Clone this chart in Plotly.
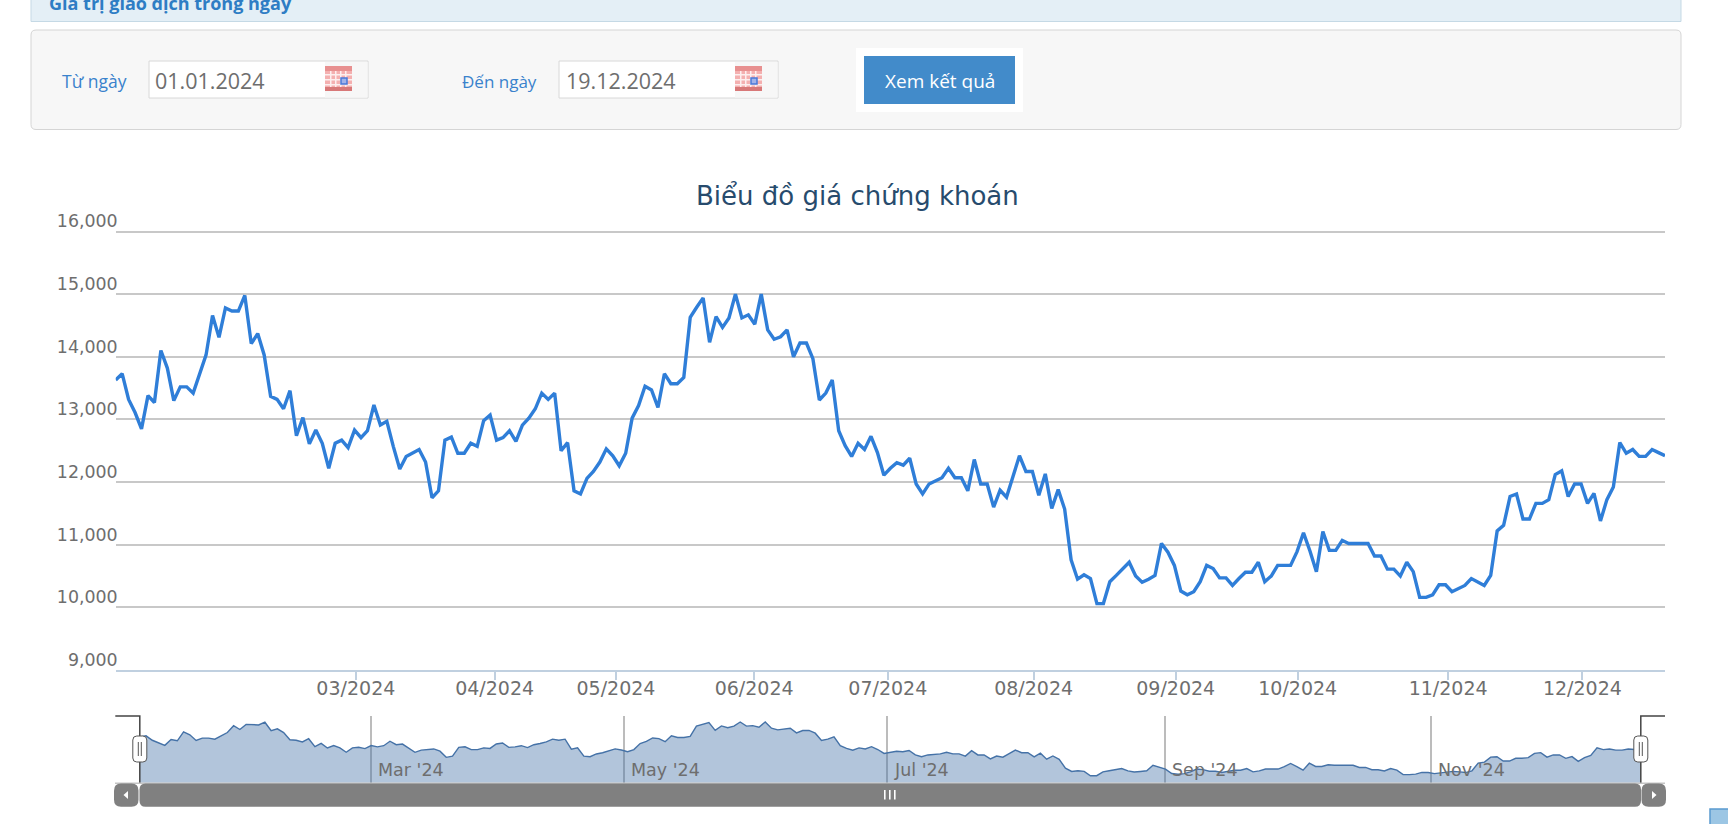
import plotly.graph_objects as go

W, H = 1728, 824

# ---------- data ----------
price_jan_may = [13630,13730,13320,13110,12850,13380,13270,14100,13820,13300,13520,13520,13420,13720,14030,
    14660,14310,14780,14730,14730,14980,14210,14370,14030,13370,13320,13170,13460,12740,13030,12610,12830,12620,
    12220,12620,12670,12550,12830,12710,12820,13230,12910,12970,12570,12210,12410,12470,12520,12320,11750,11860,
    12670,12720,12460,12460,12620,12570,12980,13070,12670,12710,12820,12650,12910,13020,13170,13420,13320,13420,
    12500,12630,11860,11810,12060,12170,12320]
price_may_aug = [12530,12420,12260,12460,13020,13220,13530,13470,13190,13730,13570,13570,13670,14630,14790,14940,
    14230,14640,14470,14620,15000,14620,14670,14520,15000,14430,14280,14320,14430,14000,14220,14220,13970,13310,
    13420,13630,12820,12580,12410,12620,12520,12730,12470,12110,12220,12310,12270,12380,11970,11810,11970,12020,
    12070,12220,12070,12070,11860,12360,11970,11970,11600,11870,11760,12090,12420,12170,12170,11790,12130,11580,
    11880,11570]
price_aug_dec = [10760,10450,10520,10460,10060,10060,10410,10510,10610,10720,10500,10400,10450,10510,11020,10880,
    10670,10260,10200,10250,10410,10670,10620,10470,10470,10350,10460,10560,10560,10720,10410,10500,10670,10670,
    10670,10890,11190,10900,10570,11210,10910,10910,11070,11020,11020,11020,11020,10820,10820,10610,10610,10500,
    10720,10570,10160,10160,10200,10360,10360,10250,10300,10350,10460,10410,10350,10510,11220,11310,11770,11810,
    11410,11410,11660,11660,11720,12120,12180,11770,11970,11970,11660,11820,11380,11720,11920,12630,12460,12520,
    12410,12410,12520,12470,12420]
price = price_jan_may + price_may_aug + price_aug_dec
session = list(range(len(price)))

y_ticks = [9000, 10000, 11000, 12000, 13000, 14000, 15000, 16000]
y_labels = ["9,000", "10,000", "11,000", "12,000", "13,000", "14,000", "15,000", "16,000"]
month_ticks = [37.2, 58.7, 77.5, 98.9, 119.6, 142.2, 164.2, 183.1, 206.4, 227.2]
month_labels = ["03/2024", "04/2024", "05/2024", "06/2024", "07/2024", "08/2024", "09/2024", "10/2024", "11/2024", "12/2024"]
nav_ticks = [37.0, 77.4, 119.5, 164.0, 206.5]
nav_labels = ["Mar '24", "May '24", "Jul '24", "Sep '24", "Nov '24"]

TITLE = "Biểu đồ giá chứng khoán"
BAR_TEXT = "Giá trị giao dịch trong ngày"
FROM_LABEL, FROM_VALUE = "Từ ngày", "01.01.2024"
TO_LABEL, TO_VALUE = "Đến ngày", "19.12.2024"
BUTTON = "Xem kết quả"

# ---------- helpers (page pixels -> paper fractions) ----------
def px(x): return x / W
def py(y): return 1 - y / H

shapes, annos = [], []

def rect(x0, y0, x1, y1, fill=None, line=None, lw=1, layer="below"):
    shapes.append(dict(type="rect", xref="paper", yref="paper", x0=px(x0), x1=px(x1), y0=py(y0), y1=py(y1),
                       fillcolor=fill or "rgba(0,0,0,0)", line=dict(color=line or "rgba(0,0,0,0)", width=lw if line else 0),
                       layer=layer))

def rrect(x0, y0, x1, y1, r, fill=None, line=None, lw=1, layer="below"):
    pts = (f"M {px(x0+r)} {py(y0)} L {px(x1-r)} {py(y0)} Q {px(x1)} {py(y0)} {px(x1)} {py(y0+r)} "
           f"L {px(x1)} {py(y1-r)} Q {px(x1)} {py(y1)} {px(x1-r)} {py(y1)} L {px(x0+r)} {py(y1)} "
           f"Q {px(x0)} {py(y1)} {px(x0)} {py(y1-r)} L {px(x0)} {py(y0+r)} Q {px(x0)} {py(y0)} {px(x0+r)} {py(y0)} Z")
    shapes.append(dict(type="path", xref="paper", yref="paper", path=pts, fillcolor=fill or "rgba(0,0,0,0)",
                       line=dict(color=line or "rgba(0,0,0,0)", width=lw if line else 0), layer=layer))

def poly(points, fill=None, line=None, lw=1, close=False, layer="above"):
    p = " L ".join(f"{px(x)} {py(y)}" for x, y in points)
    shapes.append(dict(type="path", xref="paper", yref="paper", path="M " + p + (" Z" if close else ""),
                       fillcolor=fill or "rgba(0,0,0,0)", line=dict(color=line or "rgba(0,0,0,0)", width=lw if line else 0),
                       layer=layer))

def text(x, y, s, size, color, anchor="left", family="Open Sans", bold=False):
    annos.append(dict(xref="paper", yref="paper", x=px(x), y=py(y), text=f"<b>{s}</b>" if bold else s,
                      showarrow=False, xanchor=anchor, yanchor="middle", borderpad=0,
                      font=dict(size=size, color=color, family=family)))

def calendar(x):
    rect(x, 66, x + 27, 91, fill="#f4b0b0")
    rect(x, 66, x + 27, 71, fill="#e89090")
    rect(x, 87, x + 27, 91, fill="#d87878")
    for gx in (5, 10, 15, 20):
        rect(x + gx, 71, x + gx + 1.5, 87, fill="#fdeeee")
    for gy in (74, 79, 84):
        rect(x, gy, x + 27, gy + 1.5, fill="#fdeeee")
    rect(x + 16, 78, x + 22, 84, fill="#9fb2ea", line="#4a78d8", lw=1.5)

# ---------- page furniture ----------
rect(31, -3, 1681, 21.5, fill="#e4eff6", line="#c5d9e5")
text(48, 3, BAR_TEXT, 18, "#2e7dc4", bold=True)

rrect(31, 30, 1681, 129.5, 5, fill="#f7f7f7", line="#d5d5d5", lw=1)

text(61, 81, FROM_LABEL, 17.5, "#3a82cc")
rect(149, 61, 368, 98, fill="#ffffff", line="#d8d8d8")
rect(325, 62, 367.5, 97.5, fill="#f7f7f7")
calendar(325)
text(154, 80.5, FROM_VALUE, 21.5, "#6e6e6e")

text(461, 81, TO_LABEL, 17, "#3a82cc")
rect(559, 61, 778, 98, fill="#ffffff", line="#d8d8d8")
rect(735, 62, 777.5, 97.5, fill="#f7f7f7")
calendar(735)
text(564.5, 80.5, TO_VALUE, 21.5, "#6e6e6e")

rect(856, 48, 1023, 112, fill="#ffffff")
rect(864, 56, 1015, 104, fill="#428bca")
text(939.5, 81, BUTTON, 19, "#ffffff", anchor="center")

text(857, 196, TITLE, 26, "#274b6d", anchor="center", family="DejaVu Sans")

# navigator month labels
for t, s in zip(nav_ticks, nav_labels):
    annos.append(dict(xref="x2", yref="paper", x=t, y=py(770), text=s, showarrow=False, xanchor="left", yanchor="middle",
                      xshift=5, font=dict(size=17.5, color="#6e6e6e", family="DejaVu Sans")))

# navigator mask outline + handles
poly([(115.3, 716), (139.8, 716), (139.8, 783)], line="#444444", lw=1.5)
poly([(1640.8, 783), (1640.8, 716), (1665, 716)], line="#444444", lw=1.5)
for cx in (139.8, 1640.8):
    rrect(cx - 7, 736, cx + 7, 762, 4, fill="#ffffff", line="#555555", lw=1, layer="above")
    for dx in (-1.5, 1.5):
        poly([(cx + dx, 742), (cx + dx, 756)], line="#555555", lw=1)

# scrollbar
rect(115, 782.5, 1665, 784, fill="#c4c4c4", layer="above")
rrect(139.5, 783.5, 1641, 806.8, 6, fill="#808080", layer="above")
rrect(114, 783.5, 138.5, 806.8, 7, fill="#808080", layer="above")
rrect(1641.5, 783.5, 1666, 806.8, 7, fill="#808080", layer="above")
poly([(128, 791), (128, 799), (123.5, 795)], fill="#ffffff", close=True)
poly([(1652, 791), (1652, 799), (1656.5, 795)], fill="#ffffff", close=True)
for gx in (884, 889, 894):
    rect(gx, 790, gx + 1.6, 799.5, fill="#ffffff", layer="above")

# corner widget
rect(1710, 809, 1729, 825, fill="#9cc6e4", line="#5a9bd0", lw=1.5)

# ---------- traces ----------
fig = go.Figure()
fig.add_trace(go.Scatter(x=session, y=price, mode="lines", line=dict(color="#2f7ed8", width=3.4), hoverinfo="skip",
                         showlegend=False, xaxis="x", yaxis="y"))
fig.add_trace(go.Scatter(x=session, y=price, mode="lines", line=dict(color="#4572a7", width=1.4),
                         fill="tozeroy", fillcolor="rgba(69,114,167,0.41)", hoverinfo="skip",
                         showlegend=False, xaxis="x2", yaxis="y2"))

fig.update_layout(
    width=W, height=H, autosize=False,
    margin=dict(l=0, r=0, t=0, b=0, pad=0, autoexpand=False),
    paper_bgcolor="#ffffff", plot_bgcolor="rgba(0,0,0,0)",
    font=dict(family="DejaVu Sans", color="#6e6e6e"),
    shapes=shapes, annotations=annos,
    xaxis=dict(domain=[px(115.7), px(1665)], range=[0, 240], tickmode="array", tickvals=month_ticks, ticktext=month_labels,
               showgrid=False, zeroline=False, showline=True, linecolor="#c0d0e0", linewidth=2,
               ticks="outside", ticklen=8, tickcolor="#c0d0e0", tickwidth=1.5, ticklabelstandoff=-8,
               tickfont=dict(size=19, color="#6e6e6e", family="DejaVu Sans"), anchor="y"),
    # the top of the range sits a hair above 16,000 so the library keeps that gridline
    yaxis=dict(domain=[py(670), py(228.5)], range=[9000, 16048], tickmode="array", tickvals=y_ticks, ticktext=y_labels,
               showgrid=True, gridcolor="#c8c8c8", gridwidth=2, zeroline=False, showline=False,
               ticks="", ticklabelposition="outside top", ticklabelstandoff=-3, ticklabelshift=2,
               tickfont=dict(size=17.4, color="#6e6e6e", family="DejaVu Sans"), anchor="x"),
    xaxis2=dict(domain=[px(139.8), px(1640.8)], range=[0, 240], tickmode="array", tickvals=nav_ticks,
                showticklabels=False, ticks="", showgrid=True, gridcolor="#bcbcbc", gridwidth=1.5,
                zeroline=False, showline=False, anchor="y2"),
    yaxis2=dict(domain=[py(782.7), py(716)], range=[9416, 15552], showticklabels=False, ticks="", showgrid=False,
                zeroline=False, showline=False, anchor="x2"),
)

fig.write_html("out.html", config=dict(displayModeBar=False),
               post_script="document.body.style.margin='0';document.body.style.overflow='hidden';")
